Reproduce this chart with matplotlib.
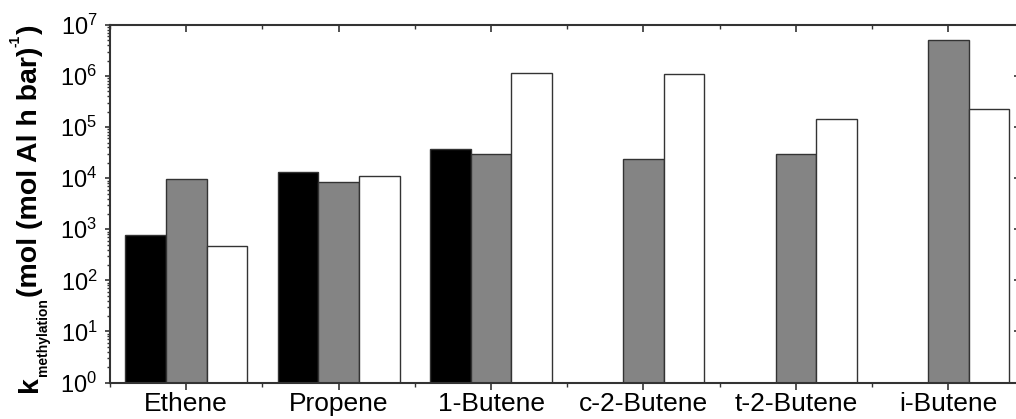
import numpy as np
import matplotlib
matplotlib.use("Agg")
import matplotlib.pyplot as plt
from matplotlib import lines as mlines
from matplotlib.ticker import LogLocator, LogFormatterMathtext, FixedLocator, NullFormatter

plt.rcParams['font.family'] = ['Liberation Sans', 'DejaVu Sans']
plt.rcParams['mathtext.fontset'] = 'custom'
plt.rcParams['mathtext.rm'] = 'Liberation Sans'
plt.rcParams['mathtext.it'] = 'Liberation Sans:italic'
plt.rcParams['mathtext.bf'] = 'Liberation Sans:bold'

categories = ['Ethene', 'Propene', '1-Butene', 'c-2-Butene', 't-2-Butene', 'i-Butene']
series_black = [755, 1.30e4, 3.73e4, np.nan, np.nan, np.nan]
series_gray = [9.65e3, 8.4e3, 2.93e4, 2.41e4, 2.98e4, 5.1e6]
series_white = [480, 1.12e4, 1.13e6, 1.10e6, 1.42e5, 2.3e5]

fills = ['#000000', '#848484', '#ffffff']
edge = '#333333'

W, H = 1016, 419
fig = plt.figure(figsize=(W / 100, H / 100), dpi=100)
ax = fig.add_axes([0.1083, 0.0871, 0.9, 0.8532])

x = np.arange(len(categories))
w = 0.8 / 3
for i, (vals, fc) in enumerate(zip([series_black, series_gray, series_white], fills)):
    ax.bar(x + (i - 1) * w, vals, width=w, bottom=1, color=fc,
           edgecolor=edge, linewidth=1.0, zorder=2)

ax.set_yscale('log')
ax.set_ylim(1, 1e7)
ax.set_xlim(-0.5, len(categories) - 0.5)

ax.yaxis.set_major_locator(LogLocator(base=10, numticks=20))
ax.yaxis.set_minor_locator(LogLocator(base=10, subs=np.arange(2, 10), numticks=100))
ax.yaxis.set_major_formatter(LogFormatterMathtext())
ax.yaxis.set_minor_formatter(NullFormatter())

ax.set_xticks(x)
ax.set_xticklabels(categories)
ax.xaxis.set_minor_locator(FixedLocator(np.arange(-0.5, len(categories), 1.0)))

for s in ax.spines.values():
    s.set_color(edge)
    s.set_linewidth(1.5)

ax.tick_params(axis='y', which='major', direction='out', length=3.6, width=1.2,
               color=edge, labelsize=17, pad=5.5, right=True, left=True)
ax.tick_params(axis='y', which='minor', direction='out', length=2.2, width=1.0,
               color=edge, right=True, left=True)
ax.tick_params(axis='x', which='major', direction='out', length=5, width=1.2,
               color=edge, labelsize=19, top=True, pad=2)
ax.tick_params(axis='x', which='minor', direction='out', length=3, width=1.0,
               color=edge, top=True)

# ticks on the top and right spines point inward
for t in ax.xaxis.get_major_ticks() + ax.xaxis.get_minor_ticks():
    t.tick2line.set_marker(mlines.TICKDOWN)
for t in ax.yaxis.get_major_ticks():
    t.tick2line.set_marker(mlines.TICKLEFT)
    t.tick2line.set_markersize(7)
for t in ax.yaxis.get_minor_ticks():
    t.tick2line.set_marker(mlines.TICKLEFT)
    t.tick2line.set_markersize(3.5)

# y-axis label built from pieces: bold main text with a small subscript
# and a small superscript, stacked bottom-to-top along a vertical baseline
renderer = fig.canvas.get_renderer()
pieces = [
    ('k', 20.5, 37, 0),
    ('methylation', 10, 47, 1),
    ('(mol (mol Al h bar)', 20.5, 37, 0),
    ('-1', 10, 20, 1),
    (')', 20.5, 37, 0),
]
ypos = 392.0
for txt, size, xb, gap in pieces:
    t = fig.text(xb / W, 1 - ypos / H, txt, fontsize=size, fontweight='bold',
                 rotation=90, rotation_mode='anchor', ha='left', va='baseline',
                 color='black')
    ext = t.get_window_extent(renderer)
    ypos -= ext.height + gap

fig.savefig('out.png', dpi=100)
